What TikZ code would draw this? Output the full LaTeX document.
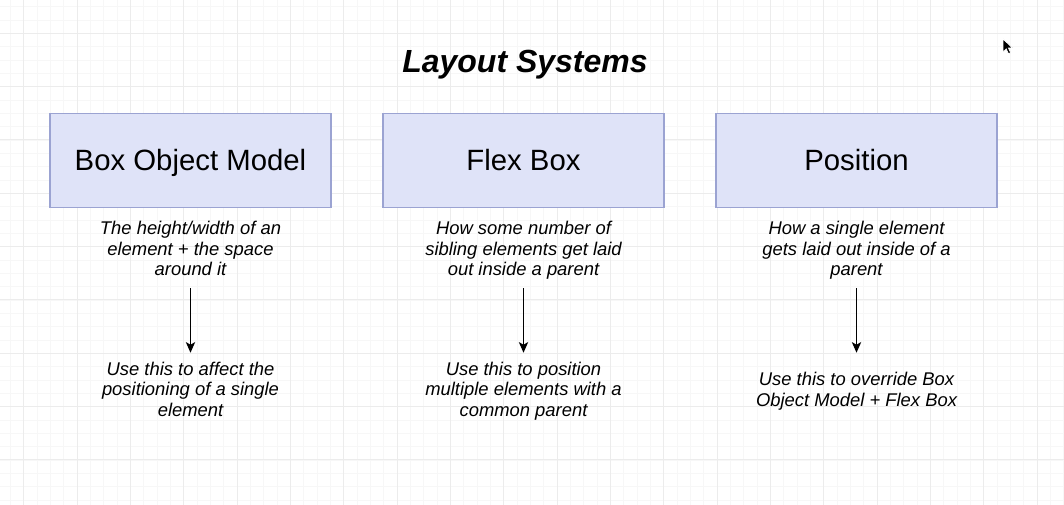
\documentclass[tikz,border=0pt]{standalone}
\usepackage{fontspec}
\setmainfont{Liberation Sans}
\usetikzlibrary{arrows.meta}

\definecolor{boxfill}{RGB}{223,227,248}
\definecolor{boxline}{RGB}{155,163,210}
\definecolor{gridminor}{RGB}{247,247,247}
\definecolor{gridmajor}{RGB}{236,236,236}

\tikzset{
	system/.style={draw=boxline, fill=boxfill, line width=1pt, minimum width=210.75pt, minimum height=70.5pt, inner sep=0pt, text height=15.7pt, text depth=0pt, font=\fontsize{22}{26}\selectfont},
	about/.style={align=center, inner sep=0pt, minimum height=55.2pt, font=\fontsize{13.8}{15.4}\selectfont\itshape},
	usage/.style={align=center, inner sep=0pt, minimum height=58.05pt, font=\fontsize{13.8}{15.4}\selectfont\itshape},
	flow/.style={-{Stealth[length=8pt, width=7pt, inset=2pt]}, line width=0.9pt}
}

\begin{document}
\begin{tikzpicture}[x=0.75pt, y=-0.75pt]
		\useasboundingbox (0,0) rectangle (1064,505);
		\fill[white] (0,0) rectangle (1064,505);
		% grid
		\foreach \i in {0,...,79}
			\draw[gridminor, line width=0.75pt] (10.4+\i*13.333,0) -- ++(0,505);
		\foreach \i in {0,...,37}
			\draw[gridminor, line width=0.75pt] (0,6.7+\i*13.333) -- ++(1064,0);
		\foreach \i in {0,...,19}
			\draw[gridmajor, line width=0.75pt] (23.7+\i*53.333,0) -- ++(0,505);
		\foreach \i in {0,...,9}
			\draw[gridmajor, line width=0.75pt] (0,33.3+\i*53.333) -- ++(1064,0);

		\node[anchor=base, font=\fontsize{24}{28}\selectfont\bfseries\itshape] (title) at (525,73) {Layout Systems};

		\node[system] (bom) at (190.5,160.5) {Box Object Model};
		\node[system] (flex) at (523.5,160.5) {Flex Box};
		\node[system] (pos) at (856.5,160.5) {Position};

		\node[about] (bomabout) at (190.5,251.2) {\strut The height/width of an\\element + the space\\around it\strut};
		\node[about] (flexabout) at (523.5,251.2) {\strut How some number of\\sibling elements get laid\\out inside a parent\strut};
		\node[about] (posabout) at (856.5,251.2) {\strut How a single element\\gets laid out inside of a\\parent\strut};

		\node[usage] (bomuse) at (190.5,391.7) {\strut Use this to affect the\\positioning of a single\\element\strut};
		\node[usage] (flexuse) at (523.5,391.7) {\strut Use this to position\\multiple elements with a\\common parent\strut};
		\node[usage] (posuse) at (856.5,391.7) {\strut Use this to override Box\\Object Model + Flex Box\strut};

		\draw[flow] (bomabout) -- (bomuse);
		\draw[flow] (flexabout) -- (flexuse);
		\draw[flow] (posabout) -- (posuse);

		% mouse pointer
		\filldraw[black, draw=white, line width=0.5pt] (1003,39) -- (1003,52) -- (1006.2,48.8) -- (1008.5,53.8) -- (1010.6,52.8) -- (1008.4,48) -- (1012.5,48) -- cycle;
	\end{tikzpicture}
\end{document}
